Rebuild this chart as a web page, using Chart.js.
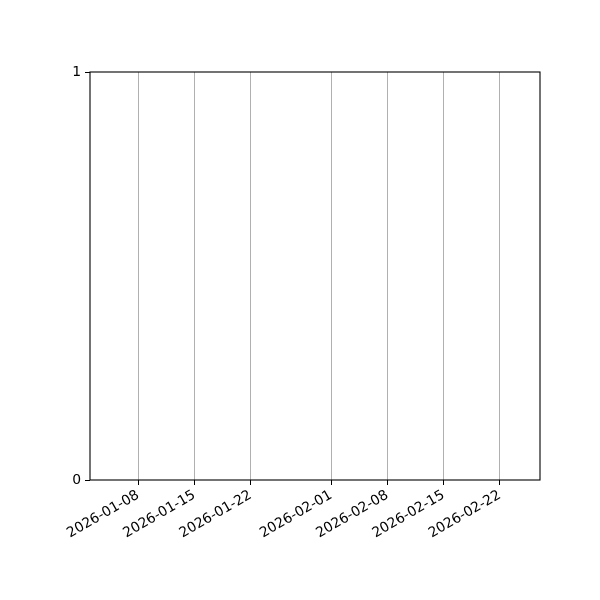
<!DOCTYPE html>
<html>
<head>
<meta charset="utf-8">
<script src="https://cdn.jsdelivr.net/npm/chart.js@4/dist/chart.umd.min.js"></script>
<style>
  html, body { margin: 0; padding: 0; background: #fff; }
  #chart { display: block; }
</style>
</head>
<body>
<canvas id="chart" width="600" height="600"></canvas>
<script>
// x range and ticks (dates), y ticks
const xRange = ['2026-01-02', '2026-02-27'];
const xTickDates = ['2026-01-08', '2026-01-15', '2026-01-22', '2026-02-01', '2026-02-08', '2026-02-15', '2026-02-22'];
const yTicks = [0, 1];
// the series is empty in the reference
const seriesDates = [];
const seriesValues = [];

const DAY = 86400000;
function toDay(s) {
    const p = s.split('-').map(Number);
    return Date.UTC(p[0], p[1] - 1, p[2]) / DAY;
}
function toLabel(d) {
    return new Date(d * DAY).toISOString().slice(0, 10);
}

const fontSpec = { family: 'DejaVu Sans', size: 13.9 };

// matplotlib-like box around the axes
const frame = {
    id: 'frame',
    afterDraw(chart) {
        const a = chart.chartArea;
        const ctx = chart.ctx;
        ctx.save();
        ctx.strokeStyle = '#000';
        ctx.lineWidth = 1.1;
        ctx.strokeRect(a.left, a.top, a.right - a.left, a.bottom - a.top);
        ctx.restore();
    }
};

new Chart(document.getElementById('chart'), {
    type: 'line',
    data: {
        datasets: [{
            data: seriesDates.map((d, i) => ({ x: toDay(d), y: seriesValues[i] })),
            borderColor: '#1f77b4',
            pointRadius: 0
        }]
    },
    options: {
        responsive: false,
        animation: false,
        layout: { padding: { top: 72, right: 60, left: 0, bottom: 0 } },
        plugins: { legend: { display: false }, tooltip: { enabled: false } },
        scales: {
            x: {
                type: 'linear',
                min: toDay(xRange[0]),
                max: toDay(xRange[1]),
                afterBuildTicks: (scale) => {
                    scale.ticks = xTickDates.map(d => ({ value: toDay(d) }));
                },
                afterFit: (scale) => { scale.height = 120; },
                border: { display: false },
                grid: {
                    color: '#b0b0b0',
                    lineWidth: 1,
                    tickColor: '#000',
                    tickLength: 5,
                    drawOnChartArea: true
                },
                ticks: {
                    color: '#000',
                    font: fontSpec,
                    minRotation: 30,
                    maxRotation: 30,
                    autoSkip: false,
                    padding: 2,
                    callback: (v) => toLabel(v)
                }
            },
            y: {
                min: 0,
                max: 1,
                afterBuildTicks: (scale) => {
                    scale.ticks = yTicks.map(v => ({ value: v }));
                },
                afterFit: (scale) => { scale.width = 90; },
                border: { display: false },
                grid: {
                    drawOnChartArea: false,
                    tickColor: '#000',
                    tickLength: 5
                },
                ticks: {
                    color: '#000',
                    font: fontSpec,
                    padding: 4,
                    callback: (v) => String(v)
                }
            }
        }
    },
    plugins: [frame]
});
</script>
</body>
</html>
